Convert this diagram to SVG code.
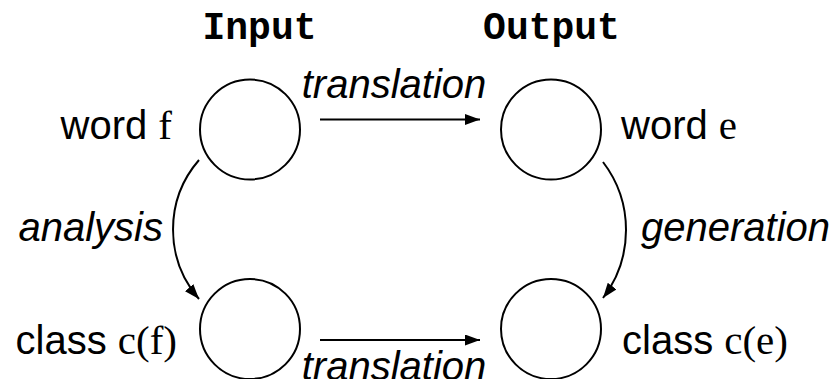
<svg xmlns="http://www.w3.org/2000/svg" width="835" height="379" viewBox="0 0 835 379">
<style>
.node{fill:none;stroke:#000;stroke-width:2}
.edge{fill:none;stroke:#000;stroke-width:2}
.hdr{font-family:"Liberation Mono","Courier New",monospace;font-weight:bold;font-size:38px;text-anchor:middle}
.lbl{font-family:"Liberation Sans",Arial,sans-serif;font-size:40px}
.it{font-family:"Liberation Sans",Arial,sans-serif;font-size:40px;font-style:italic}
.m{font-family:"Liberation Serif","Times New Roman",serif;font-size:41px}
</style>
<defs>
<marker id="ah" viewBox="0 0 15 11" refX="15" refY="5.5" markerWidth="15" markerHeight="11" markerUnits="userSpaceOnUse" orient="auto">
<path d="M0,0 L15,5.5 L0,11 Z" fill="#000"/>
</marker>
</defs>
<rect width="835" height="379" fill="#fff"/>
<text class="hdr" x="259.5" y="39">Input</text>
<text class="hdr" x="551.5" y="39">Output</text>
<g id="word_f">
<circle class="node" cx="250" cy="129.5" r="50"/>
<text class="lbl" x="172" y="139" text-anchor="end">word <tspan class="m">f</tspan></text>
</g>
<g id="word_e">
<circle class="node" cx="551" cy="129.5" r="50"/>
<text class="lbl" x="621" y="139">word <tspan class="m">e</tspan></text>
</g>
<g id="class_cf">
<circle class="node" cx="250" cy="329" r="50"/>
<text class="lbl" x="177" y="354" text-anchor="end">class <tspan class="m">c(f)</tspan></text>
</g>
<g id="class_ce">
<circle class="node" cx="551" cy="329" r="50"/>
<text class="lbl" x="622" y="354">class <tspan class="m">c(e)</tspan></text>
</g>
<g id="connectors">
<line class="edge" x1="320" y1="119.5" x2="480" y2="119.5" marker-end="url(#ah)"/>
<text class="it" x="394" y="98" text-anchor="middle">translation</text>
<line class="edge" x1="320" y1="340" x2="480" y2="340" marker-end="url(#ah)"/>
<text class="it" x="394" y="380" text-anchor="middle">translation</text>
<path class="edge" d="M199,160 A106,106 0 0 0 199,299" marker-end="url(#ah)"/>
<text class="it" x="163" y="241" text-anchor="end">analysis</text>
<path class="edge" d="M603,162 A112,112 0 0 1 603,298" marker-end="url(#ah)"/>
<text class="it" x="641" y="241">generation</text>
</g>
</svg>
